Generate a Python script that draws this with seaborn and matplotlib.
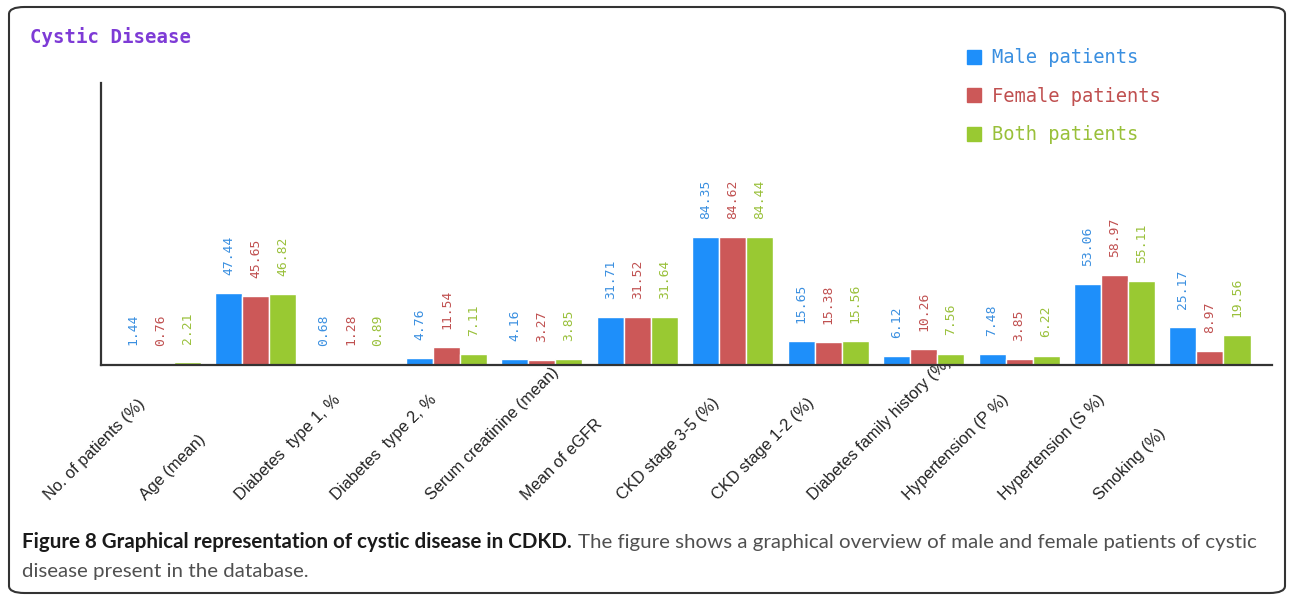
import matplotlib
matplotlib.use("Agg")
import matplotlib.pyplot as plt
from matplotlib.patches import FancyBboxPatch
from matplotlib.lines import Line2D
from matplotlib.transforms import ScaledTranslation
import seaborn as sns
import pandas as pd

categories = ["No. of patients (%)", "Age (mean)", "Diabetes  type 1, %", "Diabetes  type 2, %",
              "Serum creatinine (mean)", "Mean of eGFR", "CKD stage 3-5 (%)", "CKD stage 1-2 (%)",
              "Diabetes family history (%)", "Hypertension (P %)", "Hypertension (S %)", "Smoking (%)"]
male = [1.44, 47.44, 0.68, 4.76, 4.16, 31.71, 84.35, 15.65, 6.12, 7.48, 53.06, 25.17]
female = [0.76, 45.65, 1.28, 11.54, 3.27, 31.52, 84.62, 15.38, 10.26, 3.85, 58.97, 8.97]
both = [2.21, 46.82, 0.89, 7.11, 3.85, 31.64, 84.44, 15.56, 7.56, 6.22, 55.11, 19.56]
series_names = ["Male patients", "Female patients", "Both patients"]
colors = ["#1E8FFA", "#CC5858", "#99C932"]
text_colors = ["#3A8FE0", "#C05050", "#99C03A"]

sns.set_style("white")
plt.rcParams["font.family"] = ["DejaVu Sans"]

rows = []
for name, vals in zip(series_names, [male, female, both]):
    for c, v in zip(categories, vals):
        rows.append({"cat": c, "val": v, "group": name})
df = pd.DataFrame(rows)

fig = plt.figure(figsize=(12.92, 5.96), dpi=100)
ax = fig.add_axes([0.0782, 0.3876, 0.9063, 0.4731])

sns.barplot(data=df, x="cat", y="val", hue="group", order=categories, hue_order=series_names,
            palette=colors, saturation=1, width=0.85, ax=ax, legend=False, errorbar=None)

ax.set_xlim(-0.62, 11.65)
ax.set_ylim(0, 185.8)
ax.set_yticks([])
ax.set_xlabel("")
ax.set_ylabel("")
for s in ["top", "right"]:
    ax.spines[s].set_visible(False)
for s in ["left", "bottom"]:
    ax.spines[s].set_color("#333333")
    ax.spines[s].set_linewidth(1.6)

for cont, vals, tc in zip(ax.containers, [male, female, both], text_colors):
    ax.bar_label(cont, labels=[f"{v:.2f}" for v in vals], rotation=90, padding=13,
                 fontsize=9.4, family="DejaVu Sans Mono", color=tc)

ax.tick_params(axis="x", length=0, pad=0)
ax.set_xticks(range(len(categories)))
ax.set_xticklabels(categories, rotation=45, ha="left", va="baseline", rotation_mode="anchor",
                   fontsize=11.8, family="Liberation Sans", color="#222222")
off = ScaledTranslation(-1.10, -1.36, fig.dpi_scale_trans)
for lab in ax.get_xticklabels():
    lab.set_transform(lab.get_transform() + off)

# Legend
handles = [Line2D([], [], marker="s", linestyle="", markersize=9.5, color=c) for c in colors]
leg = fig.legend(handles, series_names, loc="upper left", bbox_to_anchor=(0.735, 0.947),
                 frameon=False, prop={"family": "DejaVu Sans Mono", "size": 13.5},
                 handlelength=0.8, handletextpad=0.55, labelspacing=1.03)
for t, tc in zip(leg.get_texts(), text_colors):
    t.set_color(tc)

# Chart title
fig.text(30 / 1292, 1 - 37 / 596, "Cystic Disease", family="DejaVu Sans Mono", fontsize=13.7,
         fontweight="bold", color="#7E3BD6", va="center", ha="left")

# Border
fig.patches.append(FancyBboxPatch((9 / 1292, 3 / 596), 1276 / 1292, 586 / 596,
                                  boxstyle="round,pad=0,rounding_size=0.012",
                                  transform=fig.transFigure, fill=False,
                                  edgecolor="#333333", linewidth=1.5))

# Caption
cap_font = ["Lato", "Liberation Sans", "DejaVu Sans"]
bold_txt = "Figure 8 Graphical representation of cystic disease in CDKD."
norm_txt = "The figure shows a graphical overview of male and female patients of cystic"
size0 = 14.5
t1 = fig.text(22 / 1292, 1 - 548 / 596, bold_txt, family=cap_font, fontsize=size0,
              fontweight="bold", color="#1A1A1A", va="baseline", ha="left")
t2 = fig.text(0, 1 - 548 / 596, norm_txt, family=cap_font, fontsize=size0,
              color="#505050", va="baseline", ha="left")
fig.canvas.draw()
r = fig.canvas.get_renderer()
w = t1.get_window_extent(renderer=r).width + 6 + t2.get_window_extent(renderer=r).width
size = size0 * 1233 / w
t1.set_fontsize(size)
t2.set_fontsize(size)
fig.canvas.draw()
bb = t1.get_window_extent(renderer=r)
t2.set_x((bb.x1 + 6) / fig.bbox.width)
fig.text(22 / 1292, 1 - 577 / 596, "disease present in the database.",
         family=cap_font, fontsize=size, color="#505050", va="baseline", ha="left")

fig.savefig("out.png", dpi=100)
